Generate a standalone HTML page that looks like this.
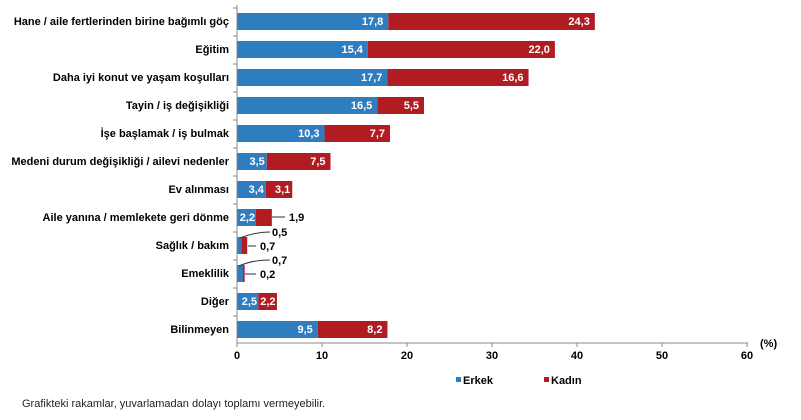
<!DOCTYPE html>
<html><head><meta charset="utf-8"><style>
body{margin:0;background:#fff;}
svg{display:block;font-family:"Liberation Sans",Arial,sans-serif;}
.c{font-size:11px;font-weight:bold;fill:#000;text-anchor:end}
.v{font-size:11px;font-weight:bold;fill:#fff;text-anchor:end}
.o{font-size:11px;font-weight:bold;fill:#000}
.t{font-size:11px;font-weight:bold;fill:#000;text-anchor:middle}
.b{fill:#2e7dc1}.r{fill:#b01c22}
</style></head><body>
<svg width="801" height="420" viewBox="0 0 801 420">
<rect class="b" x="237" y="13" width="151.3" height="17"/><rect class="r" x="388.3" y="13" width="206.55" height="17"/>
<rect class="b" x="237" y="41" width="130.9" height="17"/><rect class="r" x="367.9" y="41" width="187" height="17"/>
<rect class="b" x="237" y="69" width="150.45" height="17"/><rect class="r" x="387.45" y="69" width="141.1" height="17"/>
<rect class="b" x="237" y="97" width="140.25" height="17"/><rect class="r" x="377.25" y="97" width="46.75" height="17"/>
<rect class="b" x="237" y="125" width="87.55" height="17"/><rect class="r" x="324.55" y="125" width="65.45" height="17"/>
<rect class="b" x="237" y="153" width="29.75" height="17"/><rect class="r" x="266.75" y="153" width="63.75" height="17"/>
<rect class="b" x="237" y="181" width="28.9" height="17"/><rect class="r" x="265.9" y="181" width="26.35" height="17"/>
<rect class="b" x="237" y="209" width="18.7" height="17"/><rect class="r" x="255.7" y="209" width="16.15" height="17"/>
<rect class="b" x="237" y="237" width="4.25" height="17"/><rect class="r" x="241.25" y="237" width="5.95" height="17"/>
<rect class="b" x="237" y="265" width="5.95" height="17"/><rect class="r" x="242.95" y="265" width="1.7" height="17"/>
<rect class="b" x="237" y="293" width="21.25" height="17"/><rect class="r" x="258.25" y="293" width="18.7" height="17"/>
<rect class="b" x="237" y="321" width="80.75" height="17"/><rect class="r" x="317.75" y="321" width="69.7" height="17"/>

<text class="c" x="229" y="25">Hane / aile fertlerinden birine bağımlı göç</text>
<text class="c" x="229" y="53">Eğitim</text>
<text class="c" x="229" y="81">Daha iyi konut ve yaşam koşulları</text>
<text class="c" x="229" y="109">Tayin / iş değişikliği</text>
<text class="c" x="229" y="137">İşe başlamak / iş bulmak</text>
<text class="c" x="229" y="165">Medeni durum değişikliği / ailevi nedenler</text>
<text class="c" x="229" y="193">Ev alınması</text>
<text class="c" x="229" y="221">Aile yanına / memlekete geri dönme</text>
<text class="c" x="229" y="249">Sağlık / bakım</text>
<text class="c" x="229" y="277">Emeklilik</text>
<text class="c" x="229" y="305">Diğer</text>
<text class="c" x="229" y="333">Bilinmeyen</text>

<text class="v" x="383.3" y="25">17,8</text><text class="v" x="589.85" y="25">24,3</text>
<text class="v" x="362.9" y="53">15,4</text><text class="v" x="549.9" y="53">22,0</text>
<text class="v" x="382.45" y="81">17,7</text><text class="v" x="523.55" y="81">16,6</text>
<text class="v" x="372.25" y="109">16,5</text><text class="v" x="419" y="109">5,5</text>
<text class="v" x="319.55" y="137">10,3</text><text class="v" x="385" y="137">7,7</text>
<text class="v" x="264.75" y="165">3,5</text><text class="v" x="325.5" y="165">7,5</text>
<text class="v" x="263.9" y="193">3,4</text><text class="v" x="290.25" y="193">3,1</text>
<text class="v" x="255" y="221">2,2</text>
<text class="v" x="257" y="305">2,5</text><text class="v" x="275.5" y="305">2,2</text>
<text class="v" x="312.75" y="333">9,5</text><text class="v" x="382.45" y="333">8,2</text>

<line x1="237" y1="5" x2="237" y2="343" stroke="#888"/>
<line x1="237" y1="343" x2="748" y2="343" stroke="#888"/>
<g stroke="#888">
<line x1="233" y1="8" x2="237" y2="8"/><line x1="233" y1="36" x2="237" y2="36"/><line x1="233" y1="64" x2="237" y2="64"/><line x1="233" y1="92" x2="237" y2="92"/><line x1="233" y1="120" x2="237" y2="120"/><line x1="233" y1="148" x2="237" y2="148"/><line x1="233" y1="176" x2="237" y2="176"/><line x1="233" y1="204" x2="237" y2="204"/><line x1="233" y1="232" x2="237" y2="232"/><line x1="233" y1="260" x2="237" y2="260"/><line x1="233" y1="288" x2="237" y2="288"/><line x1="233" y1="316" x2="237" y2="316"/>
<line x1="237" y1="343" x2="237" y2="347"/><line x1="322" y1="343" x2="322" y2="347"/><line x1="407" y1="343" x2="407" y2="347"/><line x1="492" y1="343" x2="492" y2="347"/><line x1="577" y1="343" x2="577" y2="347"/><line x1="662" y1="343" x2="662" y2="347"/><line x1="747" y1="343" x2="747" y2="347"/>
</g>
<text class="t" x="237" y="359">0</text><text class="t" x="322" y="359">10</text><text class="t" x="407" y="359">20</text><text class="t" x="492" y="359">30</text><text class="t" x="577" y="359">40</text><text class="t" x="662" y="359">50</text><text class="t" x="747" y="359">60</text>
<text class="o" x="760" y="347">(%)</text>
<rect x="456" y="377" width="5" height="5" fill="#2e7dc1"/><text class="o" x="463" y="384">Erkek</text>
<rect x="544" y="377" width="5" height="5" fill="#b01c22"/><text class="o" x="551" y="384">Kadın</text>
<text x="22" y="407" font-size="11" fill="#222">Grafikteki rakamlar, yuvarlamadan dolayı toplamı vermeyebilir.</text>
<g stroke="#333" fill="none">
<line x1="272" y1="217" x2="285" y2="217"/>
<line x1="248" y1="246" x2="256" y2="246"/>
<path d="M240 238 Q255 232 270 232"/>
<line x1="245" y1="274" x2="256" y2="274"/>
<path d="M239 266 Q252 260 270 260"/>
</g>
<text class="o" x="289" y="221">1,9</text>
<text class="o" x="272" y="236">0,5</text>
<text class="o" x="260" y="250">0,7</text>
<text class="o" x="272" y="264">0,7</text>
<text class="o" x="260" y="278">0,2</text>
</svg>
</body></html>
